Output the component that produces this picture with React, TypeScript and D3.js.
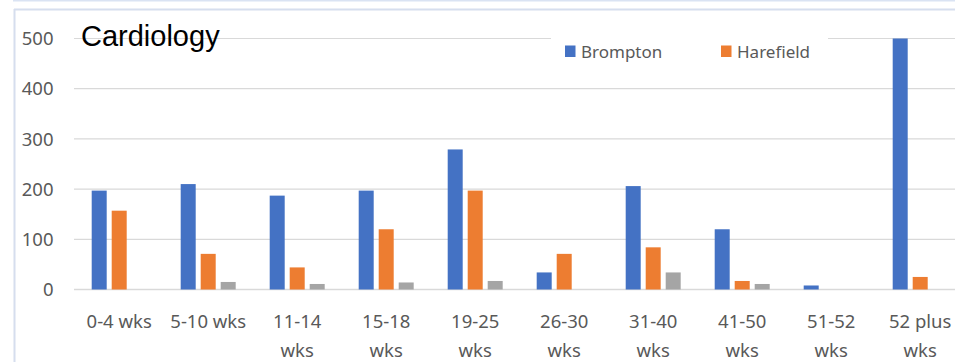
import React from "react";
import * as d3 from "d3";

const categories = [
  ["0-4 wks"],
  ["5-10 wks"],
  ["11-14", "wks"],
  ["15-18", "wks"],
  ["19-25", "wks"],
  ["26-30", "wks"],
  ["31-40", "wks"],
  ["41-50", "wks"],
  ["51-52", "wks"],
  ["52 plus", "wks"],
];
const brompton = [197, 210, 187, 197, 279, 34, 206, 120, 8, 500];
const harefield = [157, 71, 44, 120, 197, 71, 84, 17, 0, 25];
const other = [0, 15, 11, 14, 17, 0, 34, 11, 0, 0];
const seriesNames = ["Brompton", "Harefield", "Other"];
const seriesColors = ["#4472C4", "#ED7D31", "#A5A5A5"];
const yTicks = [0, 100, 200, 300, 400, 500];
const title = "Cardiology";

const W = 955;
const H = 362;
const FONT = "'Noto Sans', 'Open Sans', sans-serif";

export default function App() {
  const series = [brompton, harefield, other];
  const x0 = 74.7;
  const x1 = 964.7;
  const y = d3.scaleLinear().domain([0, 500]).range([289.5, 38.5]);
  const x = d3
    .scaleBand<number>()
    .domain(categories.map((_, i) => i))
    .range([x0, x1])
    .paddingInner(0)
    .paddingOuter(0);
  const barW = 15;
  const gap = 5;
  const groupW = barW * 3 + gap * 2;

  return (
    <svg
      width={W}
      height={H}
      style={{ position: "absolute", left: 0, top: 0, background: "#fff" }}
    >
      <rect x={0} y={0} width={W} height={H} fill="#fff" />
      {/* frame lines */}
      <rect x={13} y={0} width={W} height={1.5} fill="#DAE3F3" />
      <line x1={14} y1={9.5} x2={W} y2={9.5} stroke="#D6DEEE" strokeWidth={2} />
      <line x1={14.5} y1={9} x2={14.5} y2={H} stroke="#D6DEEE" strokeWidth={2} />

      {/* gridlines */}
      {yTicks.map((t) => (
        <line
          key={t}
          x1={74}
          x2={W}
          y1={y(t)}
          y2={y(t)}
          stroke="#D9D9D9"
          strokeWidth={t === 0 ? 1.5 : 1.2}
        />
      ))}

      {/* legend background box hides gridline */}
      <rect x={551} y={30} width={277} height={36} fill="#fff" />

      {/* title */}
      <text x={81} y={45.5} fontFamily="'Liberation Sans', Arial, sans-serif" fontSize={29} fill="#000">
        {title}
      </text>

      {/* y tick labels */}
      {yTicks.map((t) => (
        <text
          key={t}
          x={53.5}
          y={y(t)}
          dy="0.36em"
          textAnchor="end"
          fontFamily={FONT}
          fontSize={18.5}
          fill="#595959"
        >
          {t}
        </text>
      ))}

      {/* bars */}
      {categories.map((_, i) => {
        const cx = (x(i) as number) + x.bandwidth() / 2;
        const start = cx - groupW / 2;
        return series.map((s, j) => {
          const v = s[i];
          if (!v) return null;
          return (
            <rect
              key={`${i}-${j}`}
              x={start + j * (barW + gap)}
              y={y(v)}
              width={barW}
              height={y(0) - y(v)}
              fill={seriesColors[j]}
            />
          );
        });
      })}

      {/* category labels */}
      {categories.map((lines, i) => {
        const cx = (x(i) as number) + x.bandwidth() / 2;
        return (
          <text
            key={i}
            x={cx}
            y={328}
            textAnchor="middle"
            fontFamily={FONT}
            fontSize={18.5}
            fill="#595959"
          >
            {lines.map((l, k) => (
              <tspan key={k} x={cx} dy={k === 0 ? 0 : 29}>
                {l}
              </tspan>
            ))}
          </text>
        );
      })}

      {/* legend */}
      {[0, 1].map((j) => {
        const lx = [565, 721][j];
        return (
          <g key={j}>
            <rect x={lx} y={45.5} width={10.5} height={11.5} fill={seriesColors[j]} />
            <text
              x={lx + 16}
              y={57.5}
              fontFamily={FONT}
              fontSize={17}
              fill="#595959"
            >
              {seriesNames[j]}
            </text>
          </g>
        );
      })}
    </svg>
  );
}
